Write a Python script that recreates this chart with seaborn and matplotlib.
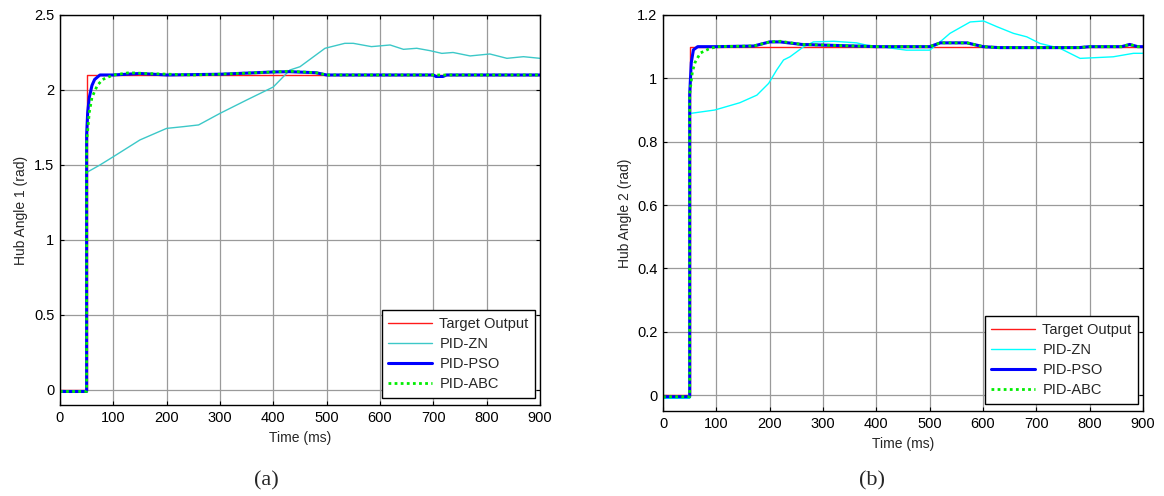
import numpy as np
import pandas as pd
import matplotlib
matplotlib.use("Agg")
import matplotlib.pyplot as plt
import seaborn as sns

sns.set_theme(style="white")
plt.rcParams['font.family'] = ['Liberation Sans', 'DejaVu Sans']

# ---------------- Data ----------------
# Panel (a): Hub Angle 1
a_target_t = [0, 50, 50, 900]
a_target_y = [0.0, 0.0, 2.1, 2.1]

a_zn_t = [0, 50, 50, 75, 100, 150, 200, 230, 260, 300, 350, 400, 431, 450, 497, 534, 550, 584,
          619, 644, 669, 694, 716, 737, 769, 806, 838, 869, 900]
a_zn_y = [-0.01, -0.01, 1.45, 1.50, 1.555, 1.667, 1.744, 1.755, 1.767, 1.844, 1.933, 2.02, 2.133,
          2.155, 2.278, 2.311, 2.311, 2.289, 2.30, 2.271, 2.278, 2.262, 2.244, 2.25, 2.227, 2.24,
          2.211, 2.222, 2.211]

a_pso_t = [0, 50, 50, 52, 55, 60, 65, 75, 100, 150, 200, 300, 400, 430, 480, 500, 700, 705,
           718, 725, 900]
a_pso_y = [-0.01, -0.01, 1.70, 1.85, 1.95, 2.03, 2.07, 2.10, 2.10, 2.11, 2.10, 2.105, 2.12, 2.122,
           2.115, 2.10, 2.10, 2.09, 2.09, 2.10, 2.10]

a_abc_t = [0, 50, 50, 55, 60, 70, 80, 100, 130, 160, 250, 300, 400, 430, 480, 500, 700, 900]
a_abc_y = [-0.01, -0.01, 1.65, 1.85, 1.95, 2.03, 2.07, 2.10, 2.115, 2.11, 2.10, 2.105, 2.12, 2.125,
           2.115, 2.10, 2.10, 2.10]

# Panel (b): Hub Angle 2
b_target_t = [0, 50, 50, 900]
b_target_y = [0.0, 0.0, 1.1, 1.1]

b_zn_t = [0, 45, 50, 50, 97, 144, 176, 198, 213, 226, 238, 263, 282, 320, 363, 381, 407, 456, 500,
          516, 538, 576, 601, 626, 657, 682, 707, 744, 782, 844, 882, 900]
b_zn_y = [-0.01, -0.01, -0.01, 0.889, 0.90, 0.923, 0.947, 0.984, 1.026, 1.058, 1.068, 1.099, 1.115,
          1.117, 1.112, 1.105, 1.10, 1.089, 1.089, 1.11, 1.142, 1.178, 1.181, 1.163, 1.142, 1.131,
          1.11, 1.095, 1.063, 1.068, 1.079, 1.079]

b_pso_t = [0, 50, 50, 53, 57, 65, 100, 170, 200, 220, 260, 300, 400, 500, 520, 570, 600, 630,
           780, 800, 860, 875, 890, 900]
b_pso_y = [-0.005, -0.005, 0.95, 1.05, 1.09, 1.10, 1.10, 1.102, 1.115, 1.115, 1.107, 1.105, 1.10,
           1.10, 1.112, 1.112, 1.10, 1.097, 1.097, 1.10, 1.10, 1.107, 1.10, 1.10]

b_abc_t = [0, 50, 50, 55, 60, 70, 85, 100, 170, 200, 220, 260, 300, 400, 500, 520, 570, 600, 630,
           780, 800, 860, 875, 890, 900]
b_abc_y = [-0.005, -0.005, 0.95, 1.02, 1.05, 1.08, 1.092, 1.10, 1.102, 1.115, 1.117, 1.107, 1.105,
           1.10, 1.10, 1.112, 1.112, 1.10, 1.097, 1.097, 1.10, 1.10, 1.107, 1.10, 1.10]

labels = ["Target Output", "PID-ZN", "PID-PSO", "PID-ABC"]

# ---------------- Figure ----------------
fig = plt.figure(figsize=(11.64, 4.96), dpi=100)
ax1 = fig.add_axes([0.0515, 0.1835, 0.4124, 0.7863])
ax2 = fig.add_axes([0.5696, 0.1714, 0.4124, 0.7984])


def draw(ax, series, zn_color, ylim, yticks, ylabel):
    styles = [
        dict(color="#ff1a1a", lw=1.0, ls="-"),
        dict(color=zn_color, lw=1.0, ls="-"),
        dict(color="#0000ff", lw=2.2, ls="-"),
        dict(color="#00ee00", lw=2.0, ls=(0, (1, 1.2))),
    ]
    for (t, y), lab, st in zip(series, labels, styles):
        df = pd.DataFrame({"t": t, "y": y})
        sns.lineplot(data=df, x="t", y="y", ax=ax, estimator=None, sort=False,
                     label=lab, color=st["color"], lw=st["lw"], linestyle=st["ls"])
    ax.set_xlim(0, 900)
    ax.set_ylim(*ylim)
    ax.set_xticks(range(0, 901, 100))
    ax.set_yticks(yticks)
    ax.set_yticklabels([("%g" % v) for v in yticks])
    ax.grid(True, color="#9a9a9a", lw=0.9)
    ax.set_axisbelow(True)
    ax.tick_params(direction="in", length=3, width=0.8, top=True, right=True,
                   labelsize=10.5, colors="black", pad=4, left=True, bottom=True)
    for s in ax.spines.values():
        s.set_color("black")
        s.set_linewidth(1.0)
    ax.set_xlabel("Time (ms)", fontsize=10, labelpad=5)
    ax.set_ylabel(ylabel, fontsize=10, labelpad=4)
    leg = ax.legend(loc="lower right", bbox_to_anchor=(0.99, 0.018), borderaxespad=0,
                    fontsize=10.5, frameon=True, fancybox=False, handlelength=3.0,
                    labelspacing=0.42, borderpad=0.45, handletextpad=0.5)
    leg.get_frame().set_edgecolor("black")
    leg.get_frame().set_linewidth(1.0)
    leg.get_frame().set_alpha(1)


draw(ax1, [(a_target_t, a_target_y), (a_zn_t, a_zn_y), (a_pso_t, a_pso_y), (a_abc_t, a_abc_y)],
     "#3cc8c8", (-0.1, 2.5), [0, 0.5, 1, 1.5, 2, 2.5], "Hub Angle 1 (rad)")
draw(ax2, [(b_target_t, b_target_y), (b_zn_t, b_zn_y), (b_pso_t, b_pso_y), (b_abc_t, b_abc_y)],
     "#00ffff", (-0.05, 1.2), [0, 0.2, 0.4, 0.6, 0.8, 1, 1.2], "Hub Angle 2 (rad)")

fig.text(266 / 1164, 1 - 481 / 496, "(a)", ha="center", va="center", fontsize=16,
         family=["Liberation Serif", "DejaVu Serif"])
fig.text(872 / 1164, 1 - 481 / 496, "(b)", ha="center", va="center", fontsize=16,
         family=["Liberation Serif", "DejaVu Serif"])

fig.savefig("out.png", dpi=100)
